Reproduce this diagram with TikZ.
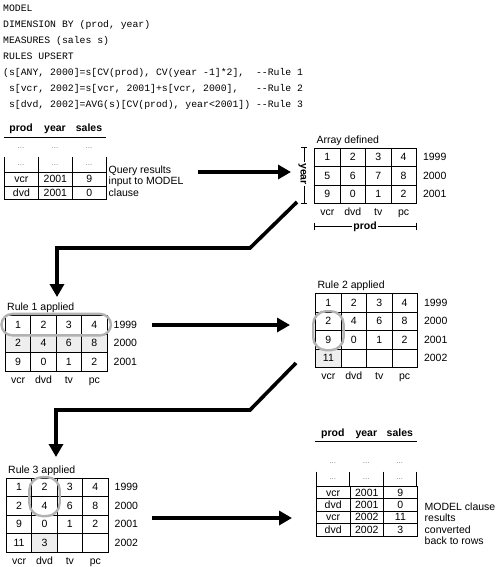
\documentclass[tikz,border=0pt]{standalone}
\usepackage{fontspec}
\setmainfont{Liberation Sans}
\setmonofont{Liberation Mono}
\usetikzlibrary{arrows.meta,positioning,matrix,fit}

\tikzset{
  txt/.style={font=\fontsize{10.5}{11.5}\selectfont, inner sep=0pt},
  lbl/.style={txt, text height=7pt, text depth=0pt},
  head/.style={lbl, font=\fontsize{10.5}{11.5}\selectfont\bfseries},
  dots/.style={inner sep=0pt, font=\fontsize{8}{8}\selectfont, text=gray},
  cell/.style={draw, line width=0.8pt, minimum width=25.4pt, minimum height=18.5pt,
    inner sep=0pt, anchor=center, text height=7pt, text depth=0pt,
    font=\fontsize{10.5}{11.5}\selectfont},
  hit/.style={fill=gray!13},
  grid/.style={matrix of nodes, nodes={cell}, column sep=-0.8pt, row sep=-0.8pt,
    nodes in empty cells, inner sep=0pt, outer sep=0pt, anchor=north west},
  ring/.style={draw=gray!60, line width=2.4pt, rounded corners=13pt, inner xsep=2.5pt, inner ysep=1pt},
  flow/.style={line width=3.6pt, line join=miter, -{Triangle[length=13pt,width=14pt]}},
}

\begin{document}
\begin{tikzpicture}[x=1pt,y=-1pt]
\useasboundingbox (0,0) rectangle (500,567);

% the model clause
\node[anchor=north west, inner sep=0pt, font=\fontsize{9.8}{16}\selectfont\ttfamily] (code) at (3,0) {%
\begin{tabular}{@{}l@{\ }l@{}}
MODEL\\
DIMENSION BY (prod, year)\\
MEASURES (sales s)\\
RULES UPSERT\\
(s[ANY, 2000]=s[CV(prod), CV(year -1]*2], & --Rule 1\\
\ s[vcr, 2002]=s[vcr, 2001]+s[vcr, 2000], & --Rule 2\\
\ s[dvd, 2002]=AVG(s)[CV(prod), year<2001]) & --Rule 3
\end{tabular}};

% query results
\foreach \h/\x in {prod/21,year/55,sales/89}
  \node[head] (q-\h) at (\x,127.7) {\h};
\draw[line width=1pt] (4,137.7) -- (106,137.7);
\foreach \x [count=\c] in {21,55,89} {
  \node[dots] (q-d\c) at (\x,148.5) {...};
  \node[dots] (q-e\c) at (\x,165) {...};
}
\foreach \x in {4,38,72,106}
  \draw[line width=0.8pt] (\x,157) -- (\x,172);
\matrix[grid, nodes={minimum width=34pt, minimum height=13.5pt}] (q) at (4,172) {
  vcr & 2001 & 9\\
  dvd & 2001 & 0\\
};
\node[txt, anchor=north west, align=left] (q-note) at (108.5,165.5) {Query results\\input to MODEL\\clause};

% array defined
\matrix[grid] (arr) at (314.3,147.7) {
  1 & 2 & 3 & 4\\
  5 & 6 & 7 & 8\\
  9 & 0 & 1 & 2\\
};
\node[lbl, anchor=base west] (arr-t) at ([xshift=2pt,yshift=4.5pt]arr.north west) {Array defined};
\foreach \y [count=\r] in {1999,2000,2001}
  \node[lbl, right=6.5pt of arr-\r-4] (arr-y\r) {\y};
\foreach \p [count=\c] in {vcr,dvd,tv,pc}
  \node[lbl, below=5pt of arr-3-\c] (arr-p\c) {\p};
\draw[line width=0.6pt] (301,147.7) -- (307,147.7) (304,147.7) -- (304,203.3) (301,203.3) -- (307,203.3);
\node[head, rotate=-90, fill=white, inner sep=1.5pt] (arr-year) at (304,174) {year};
\draw[line width=0.6pt] (314.3,222.5) -- (314.3,229.5) (314.3,226) -- (416,226) (416,222.5) -- (416,229.5);
\node[head, fill=white, inner sep=1.5pt] (arr-prod) at (365,226) {prod};

% rule 1
\matrix[grid] (r1) at (5,315) {
  1 & 2 & 3 & 4\\
  |[hit]| 2 & |[hit]| 4 & |[hit]| 6 & |[hit]| 8\\
  9 & 0 & 1 & 2\\
};
\node[lbl, anchor=base west] (r1-t) at ([xshift=2pt,yshift=4.5pt]r1.north west) {Rule 1 applied};
\foreach \y [count=\r] in {1999,2000,2001}
  \node[lbl, right=6.5pt of r1-\r-4] (r1-y\r) {\y};
\foreach \p [count=\c] in {vcr,dvd,tv,pc}
  \node[lbl, below=5pt of r1-3-\c] (r1-p\c) {\p};
\node[ring, fit=(r1-1-1)(r1-1-4), inner xsep=4pt, inner ysep=1.5pt, rounded corners=11pt] (r1-ring) {};

% rule 2
\matrix[grid] (r2) at (315.3,293.3) {
  1 & 2 & 3 & 4\\
  2 & 4 & 6 & 8\\
  9 & 0 & 1 & 2\\
  |[hit]| 11 & & & \\
};
\node[lbl, anchor=base west] (r2-t) at ([xshift=2pt,yshift=4.5pt]r2.north west) {Rule 2 applied};
\foreach \y [count=\r] in {1999,2000,2001,2002}
  \node[lbl, right=6.5pt of r2-\r-4] (r2-y\r) {\y};
\foreach \p [count=\c] in {vcr,dvd,tv,pc}
  \node[lbl, below=5pt of r2-4-\c] (r2-p\c) {\p};
\node[ring, fit=(r2-2-1)(r2-3-1)] (r2-ring) {};

% rule 3
\matrix[grid] (r3) at (6,477.7) {
  1 & 2 & 3 & 4\\
  2 & 4 & 6 & 8\\
  9 & 0 & 1 & 2\\
  11 & |[hit]| 3 & & \\
};
\node[lbl, anchor=base west] (r3-t) at ([xshift=2pt,yshift=4.5pt]r3.north west) {Rule 3 applied};
\foreach \y [count=\r] in {1999,2000,2001,2002}
  \node[lbl, right=6.5pt of r3-\r-4] (r3-y\r) {\y};
\foreach \p [count=\c] in {vcr,dvd,tv,pc}
  \node[lbl, below=5pt of r3-4-\c] (r3-p\c) {\p};
\node[ring, fit=(r3-1-2)(r3-2-2)] (r3-ring) {};

% back to rows
\foreach \h/\x in {prod/332.8,year/366.3,sales/399.8}
  \node[head] (f-\h) at (\x,432.5) {\h};
\draw[line width=1pt] (315,441.7) -- (416.7,441.7);
\foreach \x [count=\c] in {332.8,366.3,399.8} {
  \node[dots] (f-d\c) at (\x,462.7) {...};
  \node[dots] (f-e\c) at (\x,479) {...};
}
\foreach \x in {316,349.6,383.2,416.8}
  \draw[line width=0.8pt] (\x,471.7) -- (\x,486);
\matrix[grid, nodes={minimum width=33.6pt, minimum height=12.4pt}] (f) at (316,486) {
  vcr & 2001 & 9\\
  dvd & 2001 & 0\\
  vcr & 2002 & 11\\
  dvd & 2002 & 3\\
};
\node[txt, anchor=north west, align=left] (f-note) at (424.5,502.5) {MODEL clause\\results\\converted\\back to rows};

% arrows
\coordinate (a1s) at (198,172);
\coordinate (a1e) at (291,172);
\draw[flow] (a1s) -- (a1e);
\coordinate (a2s) at (297,202);
\coordinate (a2e) at (57,297);
\draw[flow] (a2s) -- ++(-47,46) -| (a2e);
\coordinate (a3s) at (152,325);
\coordinate (a3e) at (290,325);
\draw[flow] (a3s) -- (a3e);
\coordinate (a4s) at (296,363);
\coordinate (a4e) at (56,457);
\draw[flow] (a4s) -- ++(-46,47) -| (a4e);
\coordinate (a5s) at (152,518);
\coordinate (a5e) at (292,518);
\draw[flow] (a5s) -- (a5e);
\end{tikzpicture}
\end{document}
